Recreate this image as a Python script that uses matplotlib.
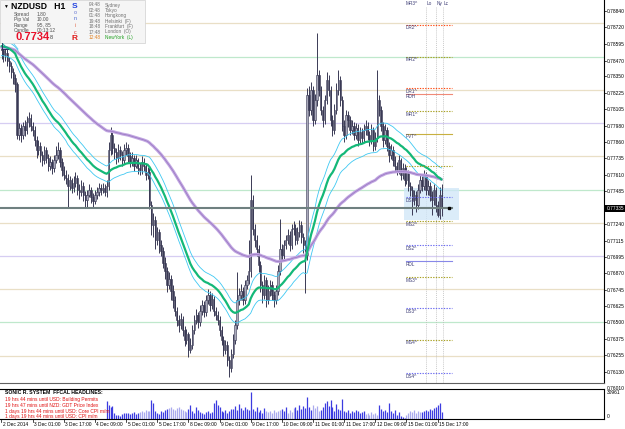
import numpy as np
import matplotlib
matplotlib.use("Agg")
import matplotlib.pyplot as plt
from matplotlib.patches import Rectangle
from matplotlib import font_manager

_names = {f.name for f in font_manager.fontManager.ttflist}
NARROW = next((f for f in ['Liberation Sans Narrow', 'DejaVu Sans Condensed', 'Liberation Sans']
               if f in _names), 'DejaVu Sans')
plt.rcParams['font.family'] = ['Liberation Sans', 'DejaVu Sans']

# ---------------- data ----------------
first_open = 0.7858
close = [0.7855, 0.7851, 0.7853, 0.7847, 0.7843, 0.7838, 0.7834, 0.7829, 0.7791, 0.7796,
         0.7791, 0.7798, 0.7795, 0.7801, 0.7804, 0.7798, 0.7795, 0.7787, 0.7780, 0.7783,
         0.7776, 0.7772, 0.7780, 0.7774, 0.7768, 0.7771, 0.7766, 0.7772, 0.7776, 0.7780,
         0.7771, 0.7765, 0.7761, 0.7759, 0.7753, 0.7757, 0.7751, 0.7755, 0.7759, 0.7750,
         0.7748, 0.7753, 0.7746, 0.7742, 0.7746, 0.7750, 0.7744, 0.7741, 0.7746, 0.7748,
         0.7751, 0.7750, 0.7751, 0.7748, 0.7753, 0.7780, 0.7791, 0.7781, 0.7778, 0.7774,
         0.7780, 0.7776, 0.7772, 0.7780, 0.7781, 0.7775, 0.7771, 0.7774, 0.7768, 0.7772,
         0.7766, 0.7765, 0.7771, 0.7768, 0.7761, 0.7763, 0.7738, 0.7723, 0.7727, 0.7712,
         0.7718, 0.7708, 0.7704, 0.7695, 0.7689, 0.7678, 0.7683, 0.7674, 0.7667, 0.7659,
         0.7652, 0.7648, 0.7653, 0.7644, 0.7637, 0.7641, 0.7629, 0.7633, 0.7644, 0.7652,
         0.7656, 0.7650, 0.7659, 0.7663, 0.7658, 0.7667, 0.7671, 0.7663, 0.7668, 0.7659,
         0.7656, 0.7652, 0.7644, 0.7637, 0.7629, 0.7633, 0.7622, 0.7616, 0.7626, 0.7637,
         0.7648, 0.7667, 0.7671, 0.7674, 0.7667, 0.7678, 0.7682, 0.7689, 0.7742, 0.7720,
         0.7712, 0.7705, 0.7693, 0.7678, 0.7671, 0.7682, 0.7667, 0.7674, 0.7678, 0.7671,
         0.7667, 0.7674, 0.7689, 0.7705, 0.7701, 0.7708, 0.7712, 0.7716, 0.7708, 0.7720,
         0.7721, 0.7712, 0.7718, 0.7723, 0.7714, 0.7708, 0.7701, 0.7821, 0.7810, 0.7825,
         0.7802, 0.7817, 0.7836, 0.7825, 0.7810, 0.7802, 0.7817, 0.7832, 0.7825, 0.7802,
         0.7795, 0.7810, 0.7825, 0.7832, 0.7817, 0.7798, 0.7791, 0.7806, 0.7802, 0.7795,
         0.7798, 0.7791, 0.7796, 0.7787, 0.7793, 0.7789, 0.7795, 0.7798, 0.7791, 0.7787,
         0.7795, 0.7783, 0.7789, 0.7817, 0.7810, 0.7798, 0.7787, 0.7795, 0.7783, 0.7776,
         0.7780, 0.7772, 0.7768, 0.7765, 0.7772, 0.7761, 0.7766, 0.7757, 0.7763, 0.7753,
         0.7750, 0.7742, 0.7746, 0.7738, 0.7750, 0.7757, 0.7753, 0.7761, 0.7750, 0.7753,
         0.7746, 0.7742, 0.7750, 0.7738, 0.7731, 0.7746, 0.7736]
high = [0.7860, 0.7858, 0.7857, 0.7856, 0.7850, 0.7846, 0.7841, 0.7837, 0.7831, 0.7800,
        0.7799, 0.7801, 0.7802, 0.7805, 0.7808, 0.7807, 0.7801, 0.7798, 0.7790, 0.7787,
        0.7786, 0.7779, 0.7783, 0.7782, 0.7777, 0.7775, 0.7773, 0.7776, 0.7783, 0.7786,
        0.7782, 0.7774, 0.7768, 0.7765, 0.7762, 0.7760, 0.7759, 0.7760, 0.7763, 0.7761,
        0.7754, 0.7757, 0.7756, 0.7749, 0.7750, 0.7754, 0.7752, 0.7747, 0.7750, 0.7752,
        0.7755, 0.7754, 0.7755, 0.7754, 0.7757, 0.7786, 0.7797, 0.7794, 0.7785, 0.7781,
        0.7784, 0.7783, 0.7779, 0.7784, 0.7786, 0.7784, 0.7778, 0.7778, 0.7776, 0.7776,
        0.7774, 0.7770, 0.7775, 0.7774, 0.7770, 0.7767, 0.7766, 0.7741, 0.7732, 0.7730,
        0.7722, 0.7720, 0.7712, 0.7707, 0.7699, 0.7692, 0.7688, 0.7686, 0.7678, 0.7670,
        0.7662, 0.7656, 0.7657, 0.7655, 0.7647, 0.7645, 0.7643, 0.7638, 0.7648, 0.7656,
        0.7660, 0.7658, 0.7663, 0.7667, 0.7666, 0.7671, 0.7675, 0.7674, 0.7672, 0.7670,
        0.7662, 0.7659, 0.7655, 0.7647, 0.7640, 0.7637, 0.7636, 0.7625, 0.7630, 0.7641,
        0.7652, 0.7688, 0.7676, 0.7679, 0.7677, 0.7682, 0.7686, 0.7712, 0.7761, 0.7746,
        0.7724, 0.7716, 0.7708, 0.7696, 0.7681, 0.7686, 0.7684, 0.7678, 0.7682, 0.7681,
        0.7674, 0.7678, 0.7693, 0.7728, 0.7709, 0.7712, 0.7716, 0.7720, 0.7719, 0.7724,
        0.7726, 0.7724, 0.7722, 0.7727, 0.7726, 0.7717, 0.7712, 0.7826, 0.7828, 0.7831,
        0.7828, 0.7822, 0.7868, 0.7840, 0.7828, 0.7813, 0.7821, 0.7838, 0.7836, 0.7828,
        0.7806, 0.7814, 0.7830, 0.7840, 0.7835, 0.7820, 0.7802, 0.7810, 0.7809, 0.7805,
        0.7802, 0.7801, 0.7800, 0.7799, 0.7797, 0.7796, 0.7799, 0.7802, 0.7801, 0.7794,
        0.7799, 0.7797, 0.7793, 0.7840, 0.7821, 0.7813, 0.7801, 0.7799, 0.7797, 0.7786,
        0.7784, 0.7783, 0.7775, 0.7771, 0.7776, 0.7774, 0.7770, 0.7769, 0.7767, 0.7765,
        0.7756, 0.7753, 0.7750, 0.7749, 0.7754, 0.7761, 0.7760, 0.7765, 0.7763, 0.7757,
        0.7756, 0.7749, 0.7754, 0.7752, 0.7741, 0.7752, 0.7754]
low = [0.7848, 0.7846, 0.7847, 0.7843, 0.7838, 0.7834, 0.7829, 0.7823, 0.7788, 0.7787,
       0.7786, 0.7788, 0.7790, 0.7792, 0.7797, 0.7794, 0.7790, 0.7783, 0.7774, 0.7776,
       0.7771, 0.7768, 0.7769, 0.7770, 0.7764, 0.7765, 0.7762, 0.7763, 0.7770, 0.7773,
       0.7767, 0.7760, 0.7757, 0.7754, 0.7737, 0.7750, 0.7747, 0.7748, 0.7752, 0.7746,
       0.7743, 0.7745, 0.7741, 0.7737, 0.7736, 0.7744, 0.7740, 0.7736, 0.7739, 0.7743,
       0.7745, 0.7746, 0.7747, 0.7745, 0.7744, 0.7750, 0.7776, 0.7777, 0.7773, 0.7769,
       0.7771, 0.7772, 0.7768, 0.7769, 0.7776, 0.7771, 0.7767, 0.7768, 0.7764, 0.7766,
       0.7762, 0.7761, 0.7762, 0.7764, 0.7757, 0.7758, 0.7735, 0.7716, 0.7714, 0.7705,
       0.7708, 0.7702, 0.7700, 0.7691, 0.7683, 0.7673, 0.7675, 0.7667, 0.7661, 0.7655,
       0.7647, 0.7643, 0.7645, 0.7640, 0.7632, 0.7634, 0.7624, 0.7627, 0.7630, 0.7641,
       0.7649, 0.7646, 0.7647, 0.7656, 0.7654, 0.7655, 0.7664, 0.7659, 0.7660, 0.7655,
       0.7652, 0.7648, 0.7640, 0.7633, 0.7625, 0.7626, 0.7617, 0.7609, 0.7613, 0.7623,
       0.7634, 0.7645, 0.7663, 0.7667, 0.7663, 0.7664, 0.7675, 0.7679, 0.7684, 0.7716,
       0.7707, 0.7700, 0.7688, 0.7673, 0.7665, 0.7668, 0.7662, 0.7664, 0.7670, 0.7667,
       0.7662, 0.7664, 0.7671, 0.7686, 0.7697, 0.7698, 0.7705, 0.7709, 0.7704, 0.7705,
       0.7716, 0.7708, 0.7709, 0.7714, 0.7710, 0.7702, 0.7672, 0.7697, 0.7805, 0.7806,
       0.7798, 0.7799, 0.7813, 0.7820, 0.7806, 0.7797, 0.7799, 0.7814, 0.7820, 0.7798,
       0.7790, 0.7792, 0.7807, 0.7821, 0.7813, 0.7794, 0.7786, 0.7788, 0.7797, 0.7791,
       0.7792, 0.7787, 0.7788, 0.7783, 0.7784, 0.7785, 0.7786, 0.7791, 0.7787, 0.7783,
       0.7784, 0.7779, 0.7780, 0.7786, 0.7805, 0.7794, 0.7782, 0.7784, 0.7779, 0.7771,
       0.7773, 0.7768, 0.7764, 0.7761, 0.7762, 0.7757, 0.7758, 0.7753, 0.7754, 0.7749,
       0.7745, 0.7731, 0.7738, 0.7733, 0.7735, 0.7747, 0.7749, 0.7750, 0.7746, 0.7746,
       0.7741, 0.7731, 0.7738, 0.7733, 0.7729, 0.7728, 0.7730]

vol_first_bar = 54
volume = [20650, 16060, 13760, 14910, 6880,
          4590, 4590, 3440, 5740, 6880, 6880, 6880, 5740, 6880, 8030, 5740, 6880, 8030, 9180,
          8030, 10320, 9180, 9180,
          21790, 18350, 9180, 6880, 5740,
          9180, 8030, 10320, 11470, 12620, 13760, 11470, 10320, 12620, 13760, 11470, 10320,
          9180, 8030,
          11470, 16060, 9180, 6880, 13760, 10320, 8030,
          6880, 5740, 8030, 9180, 6880, 8030,
          18350, 21790, 16060, 13760,
          9180, 8030, 10320, 6880, 9180, 11470,
          11470, 14910, 10320, 17200, 12620, 10320, 13760, 11470, 10320,
          30961,
          11470, 9180, 13760, 8030, 10320, 6880, 12620, 9180,
          8030, 9180, 6880, 10320, 8030, 9180, 10320,
          11470, 9180, 13760, 6880, 10320, 8030, 12620,
          13760, 10320, 16060, 11470, 14910, 12620, 25230,
          13760, 10320, 16060, 12620, 14910, 9180,
          10320, 13760, 18350, 20650, 14910, 21790, 13760, 9180, 17200, 11470, 10320, 22940,
          9180, 8030, 10320, 6880, 9180, 8030, 10320, 9180, 6880, 8030, 9180,
          5740, 6880, 4590, 8030, 5740, 6880, 4590, 16060, 11470, 9180,
          10320, 8030, 18350, 9180, 6880, 10320, 4590, 8030, 3440, 2290,
          1150, 4590, 6880, 9180, 8030, 10320, 6880, 9180, 8030,
          8030, 9180, 10320, 9180, 11470, 10320, 12620, 13760, 16060, 18350, 8030]
vol_light_ranges = [(71, 76), (86, 95), (136, 143), (147, 150), (160, 163), (187, 193), (208, 215)]

ema34_seed_close, ema34_seed_high, ema34_seed_low, ema89_seed = 0.7858, 0.7862, 0.7851, 0.7857

time_labels = ["2 Dec 2014", "3 Dec 01:00", "3 Dec 17:00", "4 Dec 09:00", "5 Dec 01:00",
               "5 Dec 17:00", "8 Dec 09:00", "9 Dec 01:00", "9 Dec 17:00", "10 Dec 09:00",
               "11 Dec 01:00", "11 Dec 17:00", "12 Dec 09:00", "15 Dec 01:00", "15 Dec 17:00"]
time_label_bars = [0, 16, 32, 48, 64, 80, 96, 112, 128, 144, 160, 176, 192, 208, 224]

price_ticks = [0.78840, 0.78720, 0.78595, 0.78470, 0.78350, 0.78225, 0.78105, 0.77980,
               0.77860, 0.77735, 0.77610, 0.77485, 0.77365, 0.77240, 0.77115, 0.76995,
               0.76870, 0.76745, 0.76625, 0.76500, 0.76375, 0.76255, 0.76130, 0.76010]
current_price = 0.7736
current_price_label = "0.77335"

round_levels = [0.7875, 0.7850, 0.7825, 0.7800, 0.7775, 0.7750, 0.7725, 0.7700, 0.7675, 0.7650, 0.7625]
round_kinds = ['q', 'h', 'q', 'f', 'q', 'h', 'q', 'f', 'q', 'h', 'q']

pivot_names = ['DR2^', 'MR2^', 'DR1^', 'RDH', 'MR1^', 'PVT^', '', 'DS1^', 'MS2^', 'DS2^', 'RDL', 'MS3^', 'DS3^', 'MS4^', 'DS4^']
pivot_values = [0.7874, 0.7850, 0.7826, 0.7822, 0.7809, 0.7792, 0.7768, 0.7744, 0.7726, 0.7708, 0.7696, 0.7684, 0.7661, 0.7637, 0.7612]
pivot_kinds = ['dr', 'm', 'dr', 'rdh', 'm', 'pvt', 'm', 'ds', 'm', 'ds', 'rdl', 'm', 'ds', 'm', 'ds']

session_names = ['Lo', 'Ny', 'Lc']
session_bars = [218.0, 223.2, 226.8]

headline_title = "SONIC R. SYSTEM  FFCAL HEADLINES:"
headlines = ["19 hrs 44 mins until USD: Building Permits",
             "19 hrs 47 mins until NZD: GDT Price Index",
             "1 days 19 hrs 44 mins until USD: Core CPI m/m",
             "1 days 19 hrs 44 mins until USD: CPI m/m"]

info_left = [("Spread", "1.80"), ("Pip Val", "10.00"), ("Range", "95, 85"), ("Candle", "00:13:12")]
session_times = [("04:48", "Sydney"), ("02:48", "Tokyo"), ("01:48", "Hongkong"), ("19:48", "Helsinki  (F)"),
                 ("18:48", "Frankfurt  (F)"), ("17:48", "London  (O)"), ("12:48", "NewYork  (L)")]

# ---------------- layout ----------------
W, H = 625, 429
BAR_PX, X0_PX = 1.947, 1.5
MAIN_BOTTOM, PLOT_RIGHT = 383, 604
VOL_TOP, VOL_BOTTOM = 389, 419
AXFS = 3.5
fig = plt.figure(figsize=(W / 100, H / 100), dpi=100)
fig.patch.set_facecolor('white')
renderer = fig.canvas.get_renderer()

def fx(px):
    return px / W

def fy(py):
    return 1 - py / H

def bx(px):
    return (px - X0_PX) / BAR_PX

YMIN, YMAX = 0.76045, 0.78925

def py_of(price):
    return (YMAX - price) / (YMAX - YMIN) * MAIN_BOTTOM

def fit_text(t, max_px):
    w = t.get_window_extent(renderer=renderer).width
    if w > max_px:
        t.set_fontsize(t.get_fontsize() * max_px / w)
    return t

def right_label(ypx, s, **kw):
    t = fig.text(fx(PLOT_RIGHT + 2.5), fy(ypx), s, fontsize=AXFS, family=NARROW,
                 va='center', ha='left', **kw)
    return fit_text(t, 18.5)

def figline(xs, ys, **kw):
    fig.add_artist(plt.Line2D([fx(v) for v in xs], [fy(v) for v in ys], **kw))

xlim = (bx(0), bx(PLOT_RIGHT))
ax = fig.add_axes([0, fy(MAIN_BOTTOM), fx(PLOT_RIGHT), MAIN_BOTTOM / H])
ax.set_xlim(*xlim)
ax.set_ylim(YMIN, YMAX)
ax.set_facecolor('white')
for s in ['top', 'left']:
    ax.spines[s].set_visible(False)
ax.spines['right'].set_linewidth(0.8)
ax.spines['bottom'].set_linewidth(0.8)
ax.spines['bottom'].set_color('#606060')

# round number lines
rcol = {'q': '#e9dfc6', 'h': '#bfe8cc', 'f': '#d6cdf2'}
for lv, k in zip(round_levels, round_kinds):
    ax.axhline(lv, color=rcol[k], lw=0.9, zorder=1)

# candles
n = len(close)
opens = [first_open] + close[:-1]
idx = np.arange(n)
for i in range(n):
    o, c, h, l = opens[i], close[i], high[i], low[i]
    h = max(h, o, c)
    l = min(l, o, c)
    ax.vlines(i, l, h, color='#3a3a55', lw=0.7, zorder=3)
    if c >= o:
        ax.add_patch(Rectangle((i - 0.35, o), 0.7, max(c - o, 0.00002), facecolor='#a9a9bb',
                               edgecolor='#3a3a55', lw=0.4, zorder=4))
    else:
        ax.add_patch(Rectangle((i - 0.35, c), 0.7, max(o - c, 0.00002), facecolor='#3a3a55',
                               edgecolor='#3a3a55', lw=0.4, zorder=4))

# EMAs
def ema(vals, period, seed):
    k = 2.0 / (period + 1)
    out, prev = [], seed
    for v in vals:
        prev = prev + k * (v - prev)
        out.append(prev)
    return np.array(out)

e_hi = ema(high, 34, ema34_seed_high)
e_lo = ema(low, 34, ema34_seed_low)
e_cl = ema(close, 34, ema34_seed_close)
e_89 = ema(close, 89, ema89_seed)
ax.plot(idx, e_hi, color='#3ec8f2', lw=0.6, zorder=5)
ax.plot(idx, e_lo, color='#3ec8f2', lw=0.6, zorder=5)
ax.plot(idx, e_89, color='#c2a6e2', lw=2.2, zorder=5, solid_capstyle='round')
ax.plot(idx, e_89, color='#9c7cc4', lw=0.6, zorder=5)
ax.plot(idx, e_cl, color='#14b878', lw=1.6, zorder=6, solid_capstyle='round')

# pivot levels
pstyle = {'dr': ('#ff4a10', (0, (1.2, 1.2))), 'm': ('#a8a020', (0, (1.2, 1.2))),
          'ds': ('#6a6af0', (0, (1.2, 1.2))), 'rdh': ('#f08a78', '-'),
          'rdl': ('#8888e8', '-'), 'pvt': ('#c8b040', '-')}
px0, px1 = bx(406), bx(452)
for name, v, k in zip(pivot_names, pivot_values, pivot_kinds):
    col, ls = pstyle[k]
    ax.plot([px0, px1], [v, v], color=col, ls=ls, lw=0.8, zorder=7)
    if name:
        ax.text(px0, v - 0.00005, name, fontsize=3.4, color='#404078', va='top', ha='left', zorder=8)
ax.text(px0, YMAX - 0.0001, 'MR3^', fontsize=3.4, color='#404078', va='top', ha='left', zorder=8)

# session vertical lines
for nm, b in zip(session_names, session_bars):
    ax.plot([b, b], [YMIN, YMAX - 0.0005], color='#b8b8b8', lw=0.5, ls=(0, (1.5, 1.5)), zorder=2)
    ax.text(b + 0.5, YMAX - 0.0001, nm, fontsize=3.4, color='#404078', va='top', ha='left')

# highlight box
ax.add_patch(Rectangle((bx(404), 0.7727), bx(459) - bx(404), 0.7751 - 0.7727,
                       facecolor='#cfe6f8', edgecolor='none', alpha=0.75, zorder=2))

# price line
ax.plot([xlim[0], bx(452)], [current_price, current_price], color='#6f8080', lw=1.5, zorder=6)
ax.plot([bx(449)], [current_price], marker='s', ms=2, color='black', zorder=9)

# right price axis (tick marks + labels drawn as text so they fit in the narrow margin)
ax.set_xticks([])
ax.set_yticks([])
for t in price_ticks:
    ypx = py_of(t)
    if ypx <= MAIN_BOTTOM:
        figline([PLOT_RIGHT, PLOT_RIGHT + 2], [ypx, ypx], color='black', lw=0.5)
    if abs(t - current_price) < 0.0004:
        continue
    right_label(ypx + 0.5, f"{t:.5f}")
ycp = py_of(current_price)
fig.add_artist(Rectangle((fx(PLOT_RIGHT + 1), fy(ycp + 3.5)), fx(21), 7 / H, transform=fig.transFigure,
                         facecolor='black', edgecolor='none', zorder=10))
right_label(ycp, current_price_label, color='white', zorder=11)

# ---------------- volume panel ----------------
vax = fig.add_axes([0, fy(VOL_BOTTOM), fx(PLOT_RIGHT), (VOL_BOTTOM - VOL_TOP) / H])
vax.set_xlim(*xlim)
vax.set_ylim(0, 34400)
vidx = np.arange(vol_first_bar, vol_first_bar + len(volume))
vcols = []
for b in vidx:
    light = any(a <= b <= e for a, e in vol_light_ranges)
    vcols.append('#aaaaee' if light else '#3c3ce0')
vax.vlines(vidx, 0, volume, colors=vcols, lw=0.9)
vax.spines['left'].set_visible(False)
for s in ['top', 'right', 'bottom']:
    vax.spines[s].set_linewidth(0.8)
vax.set_xticks([])
vax.set_yticks([])
right_label(VOL_TOP + 3.5, str(max(volume)))
right_label(VOL_BOTTOM - 2, '0')

# time labels
for lab, b in zip(time_labels, time_label_bars):
    xp = X0_PX + b * BAR_PX
    figline([xp, xp], [VOL_BOTTOM, VOL_BOTTOM + 3], color='black', lw=0.5)
    fig.text(fx(xp + 1.5), fy(424), lab, fontsize=AXFS, va='center', ha='left')

# headlines
fig.text(fx(5), fy(393), headline_title, fontsize=3.7, fontweight='bold', va='center', ha='left')
for k, hl in enumerate(headlines):
    fig.text(fx(5), fy(399.5 + 5.8 * k), hl, fontsize=3.5, color='#e01010', va='center', ha='left')

# ---------------- info panel ----------------
fig.add_artist(Rectangle((0, fy(43)), fx(145), 43 / H, transform=fig.transFigure,
                         facecolor='#f5f5f5', edgecolor='#d0d0d0', lw=0.5, zorder=20))
fig.text(fx(3), fy(6), '\u25bc', fontsize=3.5, va='center', ha='left', zorder=21)
fig.text(fx(11), fy(6.5), 'NZDUSD   H1', fontsize=6.2, fontweight='bold', va='center', ha='left', zorder=21)
for k, (a, b) in enumerate(info_left):
    yy = fy(14.5 + 5.3 * k)
    fig.text(fx(14), yy, a, fontsize=3.5, color='#505050', va='center', ha='left', zorder=21)
    fig.text(fx(37), yy, b, fontsize=3.5, color='#505050', va='center', ha='left', zorder=21)
fig.text(fx(16), fy(37), '0.7734', fontsize=8, fontweight='bold', color='#e8102a', va='center', ha='left', zorder=21)
fig.text(fx(50), fy(37.5), '8', fontsize=4, color='#404040', va='center', ha='left', zorder=21)
sonic = [('S', '#2040e0', 6, True), ('o', '#6070d0', 3.8, False), ('n', '#4060d0', 3.8, False),
         ('i', '#e06040', 3.8, False), ('c', '#e03030', 3.8, False), ('R', '#e01818', 6, True)]
for k, (ch, col, fs, bold) in enumerate(sonic):
    fig.text(fx(75), fy(6 + 6.5 * k), ch, fontsize=fs, color=col, fontweight='bold' if bold else 'normal',
             va='center', ha='center', zorder=21)
for k, (t, city) in enumerate(session_times):
    last = k == len(session_times) - 1
    fig.text(fx(89), fy(5 + 5.4 * k), t, fontsize=3.4, color='#e08020' if last else '#707070',
             va='center', ha='left', zorder=21)
    fig.text(fx(105), fy(5 + 5.4 * k), city, fontsize=3.4, color='#20a020' if last else '#707070',
             va='center', ha='left', zorder=21)

# small tool icon under the info panel
figline([2, 2, 8], [43, 49, 49], color='#303060', lw=0.7, zorder=22)
figline([3, 8], [44, 49], color='#20a8a0', lw=0.7, zorder=22)
figline([14, 18], [44, 49], color='#60c8f0', lw=0.6, zorder=22)

fig.savefig('out.png', dpi=100, facecolor='white')
